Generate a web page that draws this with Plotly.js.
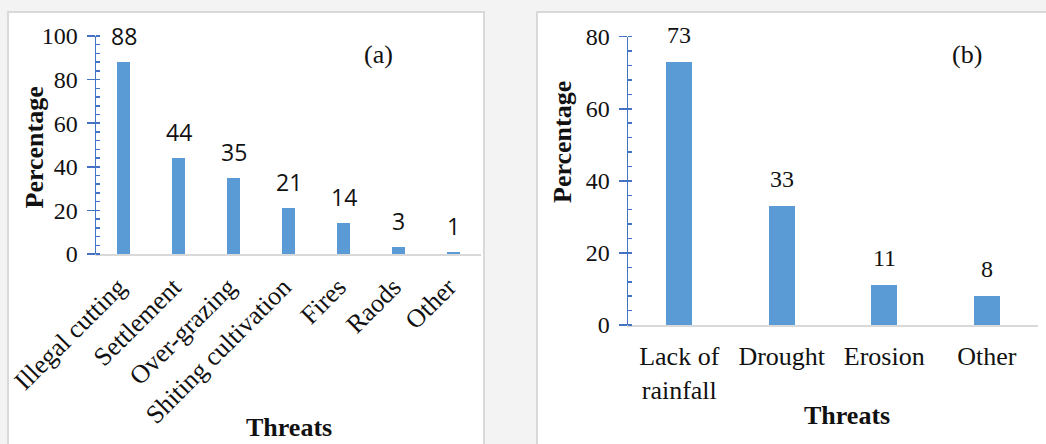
<!DOCTYPE html>
<html><head><meta charset="utf-8">
<script src="https://cdn.plot.ly/plotly-3.0.1.min.js"></script>
<style>html,body{margin:0;padding:0;background:#f3f3f3;}#chart{width:1046px;height:444px;}</style>
</head><body><div id="chart"></div>
<script>
// ---- data ----
const threatsA = ["Illegal cutting","Settlement","Over-grazing","Shiting cultivation","Fires","Raods","Other"];
const percentA = [88,44,35,21,14,3,1];
const threatsB = ["Lack of<br>rainfall","Drought","Erosion","Other"];
const percentB = [73,33,11,8];
const yTicksA = [0,20,40,60,80,100];
const yTicksB = [0,20,40,60,80];

const W=1046, H=444;
const px = x => x/W, py = y => 1 - y/H;
const SERIF = "Liberation Serif, Times New Roman, serif";
const SANS = "Open Sans, sans-serif";
const BLUE = "#4472C4", BAR = "#5B9BD5", GRAY = "#d9d9d9", TXT = "#111111";

const traces = [
  {type:'bar', x:threatsA, y:percentA, xaxis:'x', yaxis:'y', width:0.24,
   marker:{color:BAR}, hoverinfo:'skip', showlegend:false},
  {type:'bar', x:threatsB, y:percentB, xaxis:'x2', yaxis:'y2', width:0.25,
   marker:{color:BAR}, hoverinfo:'skip', showlegend:false},
  {type:'scatter', x:[], y:[], xaxis:'x', yaxis:'y3', showlegend:false, hoverinfo:'skip'},
  {type:'scatter', x:[], y:[], xaxis:'x2', yaxis:'y4', showlegend:false, hoverinfo:'skip'}
];

function yAx(domain, range, vals){
  return {domain:domain, range:range, tickvals:vals, ticktext:vals.map(String),
    ticks:'outside', ticklen:8, tickwidth:1.5, tickcolor:BLUE, ticklabelstandoff:4,
    showline:true, linecolor:BLUE, linewidth:1.5, showgrid:false, zeroline:false,
    minor:{ticks:'inside', ticklen:4, dtick:4, tickwidth:1.5, tickcolor:BLUE, showgrid:false},
    tickfont:{family:SERIF, size:24, color:TXT}, fixedrange:true};
}
function yOver(base, range, vals){
  return {overlaying:base, range:range, tickvals:vals, showticklabels:false,
    ticks:'inside', ticklen:4, tickwidth:1.5, tickcolor:BLUE,
    showline:false, showgrid:false, zeroline:false, fixedrange:true};
}

const domAy = [py(254), py(36)], domBy = [py(325), py(36.7)];
const layout = {
  width:W, height:H, margin:{l:0,r:0,t:0,b:0},
  paper_bgcolor:'#f3f3f3', plot_bgcolor:'rgba(0,0,0,0)',
  bargap:0, showlegend:false,
  xaxis:{domain:[px(96), px(481)], anchor:'y', showline:true, linecolor:GRAY, linewidth:1.5,
    ticks:'', tickangle:-45, ticklabelstandoff:6, ticklabelshift:-5,
    tickfont:{family:SERIF, size:26, color:TXT}, showgrid:false, fixedrange:true},
  yaxis:Object.assign(yAx(domAy,[0,100],yTicksA), {anchor:'x'}),
  yaxis3:Object.assign(yOver('y',[0,100],yTicksA), {anchor:'x'}),
  xaxis2:{domain:[px(628), px(1038)], anchor:'y2', showline:true, linecolor:GRAY, linewidth:1.5,
    ticks:'', tickangle:0, ticklabelstandoff:7,
    tickfont:{family:SERIF, size:26, color:TXT}, showgrid:false, fixedrange:true},
  yaxis2:Object.assign(yAx(domBy,[0,80],yTicksB), {anchor:'x2'}),
  yaxis4:Object.assign(yOver('y2',[0,80],yTicksB), {anchor:'x2'}),
  shapes:[
    {type:'rect', xref:'paper', yref:'paper', x0:px(8), x1:px(484), y0:py(470), y1:py(12),
     fillcolor:'#ffffff', line:{color:GRAY, width:2}, layer:'below'},
    {type:'rect', xref:'paper', yref:'paper', x0:px(537), x1:px(1060), y0:py(470), y1:py(12),
     fillcolor:'#ffffff', line:{color:GRAY, width:2}, layer:'below'}
  ],
  annotations:[]
};

percentA.forEach((v,i)=>layout.annotations.push({xref:'x', yref:'y', x:threatsA[i], y:v,
  text:String(v), showarrow:false, xanchor:'center', yanchor:'middle', yshift:26,
  font:{family:SANS, size:23, color:TXT}}));
percentB.forEach((v,i)=>layout.annotations.push({xref:'x2', yref:'y2', x:threatsB[i], y:v,
  text:String(v), showarrow:false, xanchor:'center', yanchor:'middle', yshift:27,
  font:{family:SERIF, size:24, color:TXT}}));

const titleFont = {family:SERIF, size:26, color:TXT};
[
  {x:px(34), y:py(147.5), text:'<b>Percentage</b>', textangle:-90},
  {x:px(562), y:py(142), text:'<b>Percentage</b>', textangle:-90},
  {x:px(288.5), y:py(444), yanchor:'bottom', text:'<b>Threats</b>'},
  {x:px(847), y:py(415), text:'<b>Threats</b>'},
  {x:px(378), y:py(55), text:'(a)'},
  {x:px(967), y:py(55), text:'(b)'}
].forEach(a=>layout.annotations.push(Object.assign({xref:'paper', yref:'paper', showarrow:false,
  xanchor:'center', yanchor:'middle', font:titleFont}, a)));

Plotly.newPlot('chart', traces, layout, {displayModeBar:false, staticPlot:true});
</script></body></html>
